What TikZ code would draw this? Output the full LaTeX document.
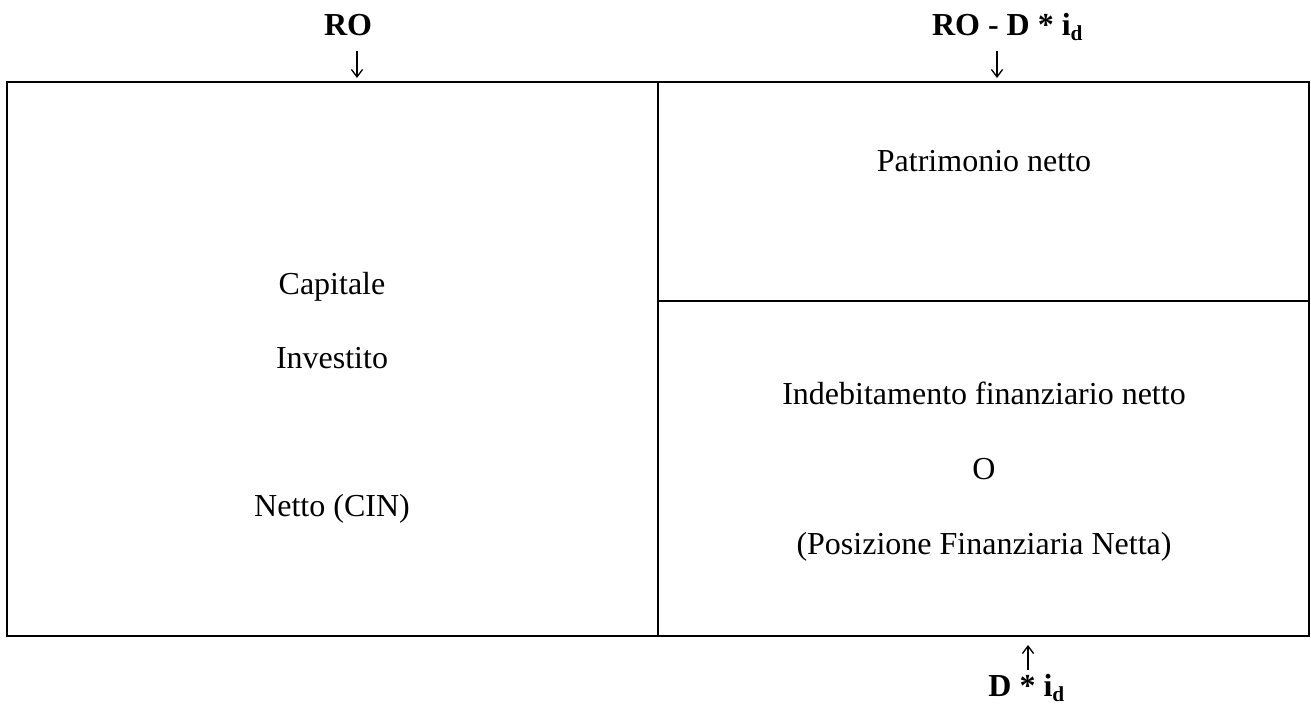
\documentclass[tikz,border=0pt]{standalone}
\usepackage{fontspec}
\setmainfont{Liberation Serif}
\usetikzlibrary{arrows.meta, positioning}
\tikzset{x=0.375pt, y=-0.375pt,
  every node/.style={inner sep=0pt, anchor=base, font=\fontsize{12}{14}\selectfont},
  lbl/.style={font=\fontsize{12}{14}\selectfont\bfseries},
  frame/.style={line width=0.75pt},
  pfeil/.style={-{Straight Barb[length=2.8pt,width=4.2pt]}, line width=0.5pt}}

\begin{document}
\begin{tikzpicture}
  \useasboundingbox (0,0) rectangle (1311,707);
  % the two columns of the balance sheet
  \draw[frame] (7,82) rectangle (1309,636);
  \draw[frame] (658,82) -- (658,636);
  \draw[frame] (658,301) -- (1309,301);

  \node (cap) at (332,295) {Capitale};
  \node (inv) at (332,369) {Investito};
  \node (cin) at (332,517) {Netto (CIN)};
  \node (pn) at (984,172) {Patrimonio netto};
  \node (ifn) at (984,405) {Indebitamento finanziario netto};
  \node (o) at (984,480) {O};
  \node (pfn) at (984,555) {(Posizione Finanziaria Netta)};

  % returns
  \node[lbl] (ro) at (348,36) {RO};
  \node[lbl] (rod) at (1008,36) {RO - D * i\textsubscript{d}};
  \node[lbl] (di) at (1027,697) {D * i\textsubscript{d}};
  \coordinate (ro-a) at (357,51);
  \coordinate (ro-b) at (357,78);
  \coordinate (rod-a) at (997,51);
  \coordinate (rod-b) at (997,78);
  \coordinate (di-a) at (1028,670);
  \coordinate (di-b) at (1028,645);
  \draw[pfeil] (ro-a) -- (ro-b);
  \draw[pfeil] (rod-a) -- (rod-b);
  \draw[pfeil] (di-a) -- (di-b);
\end{tikzpicture}
\end{document}
